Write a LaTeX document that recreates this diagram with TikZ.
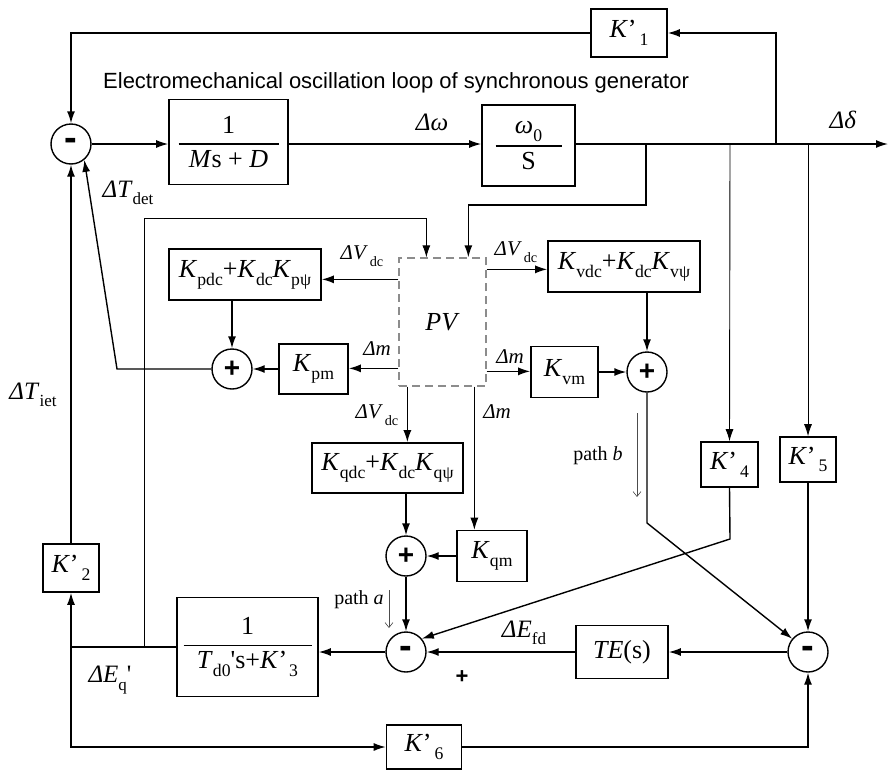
\documentclass[tikz,border=0pt]{standalone}
\usepackage{fontspec}
\setmainfont{Liberation Serif}
\setsansfont{Liberation Sans}
\usepackage{amsmath}
\usepackage{graphicx}
\usetikzlibrary{arrows.meta,calc}

\newcommand\bigf{\fontsize{26}{31}\selectfont}
\newcommand\midf{\fontsize{25}{30}\selectfont}
\newcommand\lblf{\fontsize{21}{25}\selectfont}
\newcommand\sbs[1]{\raisebox{-0.3em}{\scalebox{0.68}{#1}}}
\newcommand\iK{\textit{K}}
\newcommand\dlt{\textit{Δ}}
\newcommand\fbx[3]{$\displaystyle\genfrac{}{}{1.3pt}{}{\hbox{#2}}{\hbox to #1{\hss #3\hss}}$}

\begin{document}
\begin{tikzpicture}[x=1pt,y=-1pt,
  blk/.style={draw,line width=1.6pt,inner sep=0pt,font=\bigf},
  sumc/.style={draw,circle,line width=1.4pt,minimum size=40pt,inner sep=0pt,font=\sffamily\bfseries\fontsize{28}{28}\selectfont},
  minus/.style={sumc,font=\sffamily\bfseries\fontsize{38}{38}\selectfont},
  conn/.style={line width=1.4pt,-{Latex[length=12pt,width=8pt]}},
  ln/.style={line width=1.4pt},
  thinconn/.style={line width=0.9pt,-{Latex[length=12pt,width=8pt]}},
  lbl/.style={font=\lblf,inner sep=0pt},
  biglbl/.style={font=\midf,inner sep=0pt},
  pathlbl/.style={font=\fontsize{20}{24}\selectfont,inner sep=0pt},
  hint/.style={line width=0.6pt,draw=black!70,-{Straight Barb[length=5pt,width=8pt]}},
]
\useasboundingbox (0,0) rectangle (893,771);

% ---- blocks
\node[minus] (s1) at (71,144) {-};
\node[blk,minimum width=119pt,minimum height=85pt] (b1) at (228.5,142) {\fbx{100pt}{1}{\textit{M}s + \textit{D}}};
\node[blk,minimum width=93pt,minimum height=81pt] (b2) at (528.5,145.5) {\fbx{66pt}{\textit{ω}\sbs{0}}{S}};
\node[blk,minimum width=76pt,minimum height=48pt] (k1) at (629,33) {\iK’\hspace{3pt}\sbs{1}};
\node[draw=black!45,dash pattern=on 8pt off 5pt,line width=1.3pt,minimum width=87pt,minimum height=128pt,font=\bigf] (pv) at (442.5,322) {\textit{PV}};
\node[blk,minimum width=152pt,minimum height=51pt] (kp) at (245,274.5) {\iK\sbs{pdc}+\iK\sbs{dc}\iK\sbs{pψ}};
\node[sumc] (sp) at (232,369) {+};
\node[blk,minimum width=69pt,minimum height=50pt] (kpm) at (313.5,369) {\iK\sbs{pm}};
\node[blk,minimum width=152pt,minimum height=51pt] (kv) at (624,266.5) {\iK\sbs{vdc}+\iK\sbs{dc}\iK\sbs{vψ}};
\node[blk,minimum width=67pt,minimum height=51pt] (kvm) at (564.5,372) {\iK\sbs{vm}};
\node[sumc] (sv) at (647,372) {+};
\node[blk,minimum width=151pt,minimum height=50pt] (kq) at (387.5,468) {\iK\sbs{qdc}+\iK\sbs{dc}\iK\sbs{qψ}};
\node[sumc] (s2) at (406,556) {+};
\node[blk,minimum width=70pt,minimum height=51pt] (kqm) at (492,556) {\iK\sbs{qm}};
\node[minus] (s3) at (406,652) {-};
\node[blk,minimum width=141pt,minimum height=99pt] (b3) at (247.5,647) {\fbx{128pt}{1}{\textit{T}\sbs{d0}\textquotesingle s+\iK’\hspace{2pt}\sbs{3}}};
\node[blk,minimum width=92pt,minimum height=53pt] (te) at (622,652) {\textit{TE}(s)};
\node[minus] (s4) at (808,652) {-};
\node[blk,minimum width=57pt,minimum height=45pt] (k4) at (729.5,464.5) {\iK’\hspace{3pt}\sbs{4}};
\node[blk,minimum width=56pt,minimum height=45pt] (k5) at (808,459.5) {\iK’\hspace{3pt}\sbs{5}};
\node[blk,minimum width=56pt,minimum height=48pt] (k2) at (71,568) {\iK’\hspace{3pt}\sbs{2}};
\node[blk,minimum width=75pt,minimum height=44pt] (k6) at (424,747) {\iK’\hspace{3pt}\sbs{6}};

% ---- coordinates
\coordinate (dend) at (888,144);
\coordinate (j1) at (646,144);
\coordinate (j2) at (730,144);
\coordinate (j3) at (776,144);
\coordinate (j4) at (808,144);
\coordinate (pL1) at ($(pv.north west)+(0,22)$);
\coordinate (pL2) at ($(pv.north west)+(0,111)$);
\coordinate (pR1) at ($(pv.north east)+(0,12)$);
\coordinate (pR2) at ($(pv.north east)+(0,114)$);
\coordinate (pB1) at ($(pv.south west)+(9,0)$);
\coordinate (pB2) at ($(pv.south west)+(76,0)$);
\coordinate (pT1) at ($(pv.north west)+(28,0)$);
\coordinate (pT2) at ($(pv.north west)+(70,0)$);
\coordinate (eqc) at (71,647);
\coordinate (jq) at (144,647);
\coordinate (tdet) at (117,369);
\coordinate (pbk) at (647,523);
\coordinate (k4k) at (730,539);

% ---- connectors
\draw[conn] (s1.east) -- (s1.east -| b1.west);
\draw[conn] (b1.east |- s1) -- (b2.west |- s1);
\draw[conn] (b2.east |- s1) -- (dend);
\draw[conn] (j1) -- (646,205) -| (pT2);
\draw[thinconn] (jq) -- (144,218) -| (pT1);
\draw[conn] (j3) |- (k1.east);
\draw[conn] (k1.west) -| (s1.north);
\draw[thinconn] (j2) -- (k4.north);
\draw[thinconn] (j4) -- (k5.north);

\draw[conn] (pL1) -- (pL1 -| kp.east);
\draw[conn] (pL2) -- (pL2 -| kpm.east);
\draw[conn] (pR1) -- (pR1 -| kv.west);
\draw[conn] (pR2) -- (pR2 -| kvm.west);
\draw[conn] (pB1) -- (pB1 |- kq.north);
\draw[thinconn] (pB2) -- (pB2 |- kqm.north);

\draw[conn] (kp.south -| sp) -- (sp.north);
\draw[conn] (kpm.west) -- (sp.east);
\draw[conn] (sp.west) -- (tdet) -- (s1.-50);
\draw[conn] (kv.south -| sv) -- (sv.north);
\draw[conn] (kvm.east) -- (sv.west);
\draw[conn] (sv.south) -- (pbk) -- (s4.140);
\draw[conn] (kq.south -| s2) -- (s2.north);
\draw[conn] (kqm.west) -- (s2.east);
\draw[conn] (s2.south) -- (s3.north);
\draw[conn] (k4.south) -- (k4k) -- (s3.40);
\draw[conn] (k5.south) -- (s4.north);
\draw[conn] (s4.west) -- (te.east);
\draw[conn] (te.west) -- (s3.east);
\draw[conn] (s3.west) -- (s3.west -| b3.east);
\draw[ln] (b3.west |- eqc) -- (eqc);
\draw[conn] (eqc) -- (k2.south);
\draw[conn] (eqc) |- (k6.west);
\draw[conn] (k6.east) -| (s4.south);
\draw[conn] (k2.north) -- (s1.south);

% ---- labels
\node[font=\sffamily\fontsize{22}{26}\selectfont,anchor=base west,inner sep=0pt] (title) at (103,88) {Electromechanical oscillation loop of synchronous generator};
\node[biglbl] (lw) at (432,122) {\dlt\textit{ω}};
\node[biglbl] (ld) at (843,120) {\dlt\textit{δ}};
\node[biglbl] (ltd) at (128,193) {\dlt\textit{T}\sbs{det}};
\node[biglbl] (lti) at (33,395) {\dlt\textit{T}\sbs{iet}};
\node[lbl] (lv1) at (362,256) {\dlt\textit{V}\hspace{2pt}\sbs{dc}};
\node[lbl] (lv2) at (516,252) {\dlt\textit{V}\hspace{2pt}\sbs{dc}};
\node[lbl] (lv3) at (377,415) {\dlt\textit{V}\hspace{2pt}\sbs{dc}};
\node[lbl] (lm1) at (377,349) {\dlt\textit{m}};
\node[lbl] (lm2) at (510,357) {\dlt\textit{m}};
\node[lbl] (lm3) at (497,412) {\dlt\textit{m}};
\node[pathlbl] (lpb) at (598,456) {path \textit{b}};
\node[pathlbl] (lpa) at (359,600) {path \textit{a}};
\coordinate (hb1) at (637,413);
\coordinate (hb2) at (637,497);
\coordinate (ha1) at (389,590);
\coordinate (ha2) at (389,628);
\draw[hint] (hb1) -- (hb2);
\draw[hint] (ha1) -- (ha2);
\node[biglbl] (lef) at (524,633) {\dlt\textit{E}\sbs{fd}};
\node[font=\sffamily\bfseries\fontsize{22}{22}\selectfont,inner sep=0pt] (plus) at (462,677) {+};
\node[biglbl] (leq) at (110,680) {\dlt\textit{E}\sbs{q}\textquotesingle};
\end{tikzpicture}
\end{document}
